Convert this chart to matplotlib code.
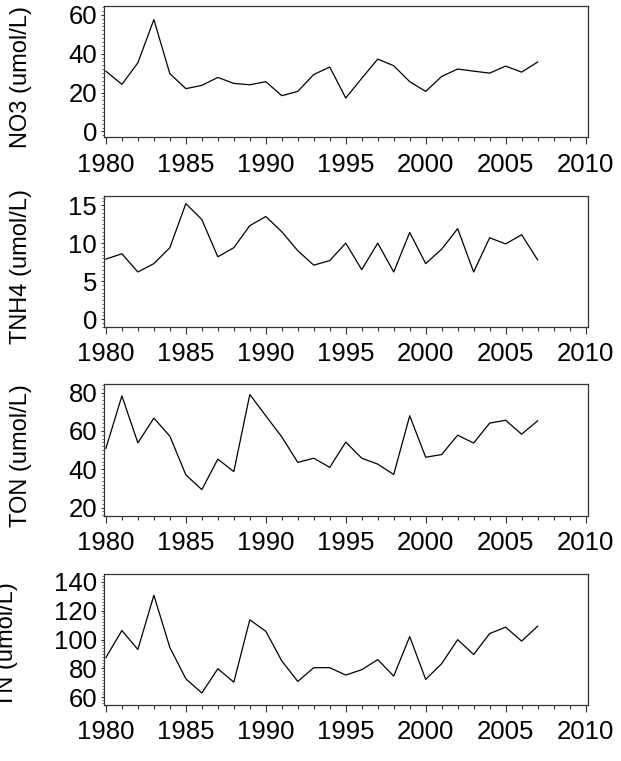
import matplotlib
matplotlib.use('Agg')
import matplotlib.pyplot as plt
from matplotlib.ticker import MultipleLocator

plt.rcParams['font.family'] = ['Liberation Sans', 'DejaVu Sans']

years = list(range(1980, 2008))

no3 = [31.0, 24.2, 35.3, 57.5, 29.7, 22.0, 23.7, 27.8, 24.7, 24.0,
       25.6, 18.4, 20.6, 29.3, 33.1, 17.2, 27.3, 37.2, 33.8, 25.6,
       20.6, 28.3, 32.1, 31.0, 30.0, 33.6, 30.5, 35.7]
tnh4 = [7.9, 8.6, 6.2, 7.3, 9.4, 15.2, 13.1, 8.2, 9.4, 12.3,
        13.5, 11.5, 9.0, 7.1, 7.7, 10.0, 6.5, 10.0, 6.2, 11.4,
        7.3, 9.2, 11.9, 6.2, 10.7, 9.9, 11.1, 7.8]
ton = [50.9, 78.3, 53.8, 66.7, 57.3, 37.1, 29.4, 45.3, 38.8, 79.0,
       67.9, 56.9, 43.6, 45.8, 41.0, 54.2, 45.8, 42.7, 37.3, 67.9,
       46.3, 47.7, 57.8, 53.7, 64.1, 65.6, 58.3, 65.3]
tn = [87.5, 106.2, 93.1, 130.6, 94.5, 72.8, 63.0, 79.8, 70.5, 113.6,
      105.7, 85.2, 71.0, 80.5, 80.5, 75.4, 79.1, 86.1, 74.7, 102.0,
      72.4, 83.3, 99.9, 89.6, 104.1, 108.5, 98.9, 109.2]

series = [no3, tnh4, ton, tn]
ylabels = ['NO3 (umol/L)', 'TNH4 (umol/L)', 'TON (umol/L)', 'TN (umol/L)']
ylims = [(-3, 64.5), (-1, 16.2), (15.8, 84.5), (54.7, 145.3)]
ymajor = [20, 5, 20, 20]
yminor = [2, 0.5, 2, 2]

W, H = 621, 761
boxes = [(6, 137.3), (196, 326.7), (384, 515.7), (574, 705)]
left, right = 103.5, 587.5

fig = plt.figure(figsize=(W / 100, H / 100), dpi=100)

for i in range(4):
  top, bot = boxes[i]
  ax = fig.add_axes([left / W, 1 - bot / H, (right - left) / W, (bot - top) / H])
  ax.plot(years, series[i], color='black', lw=0.9)
  ax.set_xlim(1979.85, 2010.12)
  ax.set_ylim(*ylims[i])
  ax.xaxis.set_major_locator(MultipleLocator(5))
  ax.xaxis.set_minor_locator(MultipleLocator(1))
  ax.yaxis.set_major_locator(MultipleLocator(ymajor[i]))
  ax.yaxis.set_minor_locator(MultipleLocator(yminor[i]))
  ax.tick_params(axis='x', which='major', length=5, width=0.8, pad=6, labelsize=18.5, color='#333333')
  ax.tick_params(axis='x', which='minor', length=3, width=0.8, color='#333333')
  ax.tick_params(axis='y', which='major', length=2.5, width=0.8, pad=2, labelsize=18.5, color='#333333')
  ax.tick_params(axis='y', which='minor', length=1.5, width=0.6, color='#555555')
  for s in ax.spines.values():
    s.set_color('#333333')
    s.set_linewidth(0.9)
  ax.set_ylabel(ylabels[i], fontsize=17, labelpad=26)
  ax.yaxis.label.set_y(0.46)

fig.savefig('out.png', dpi=100)
